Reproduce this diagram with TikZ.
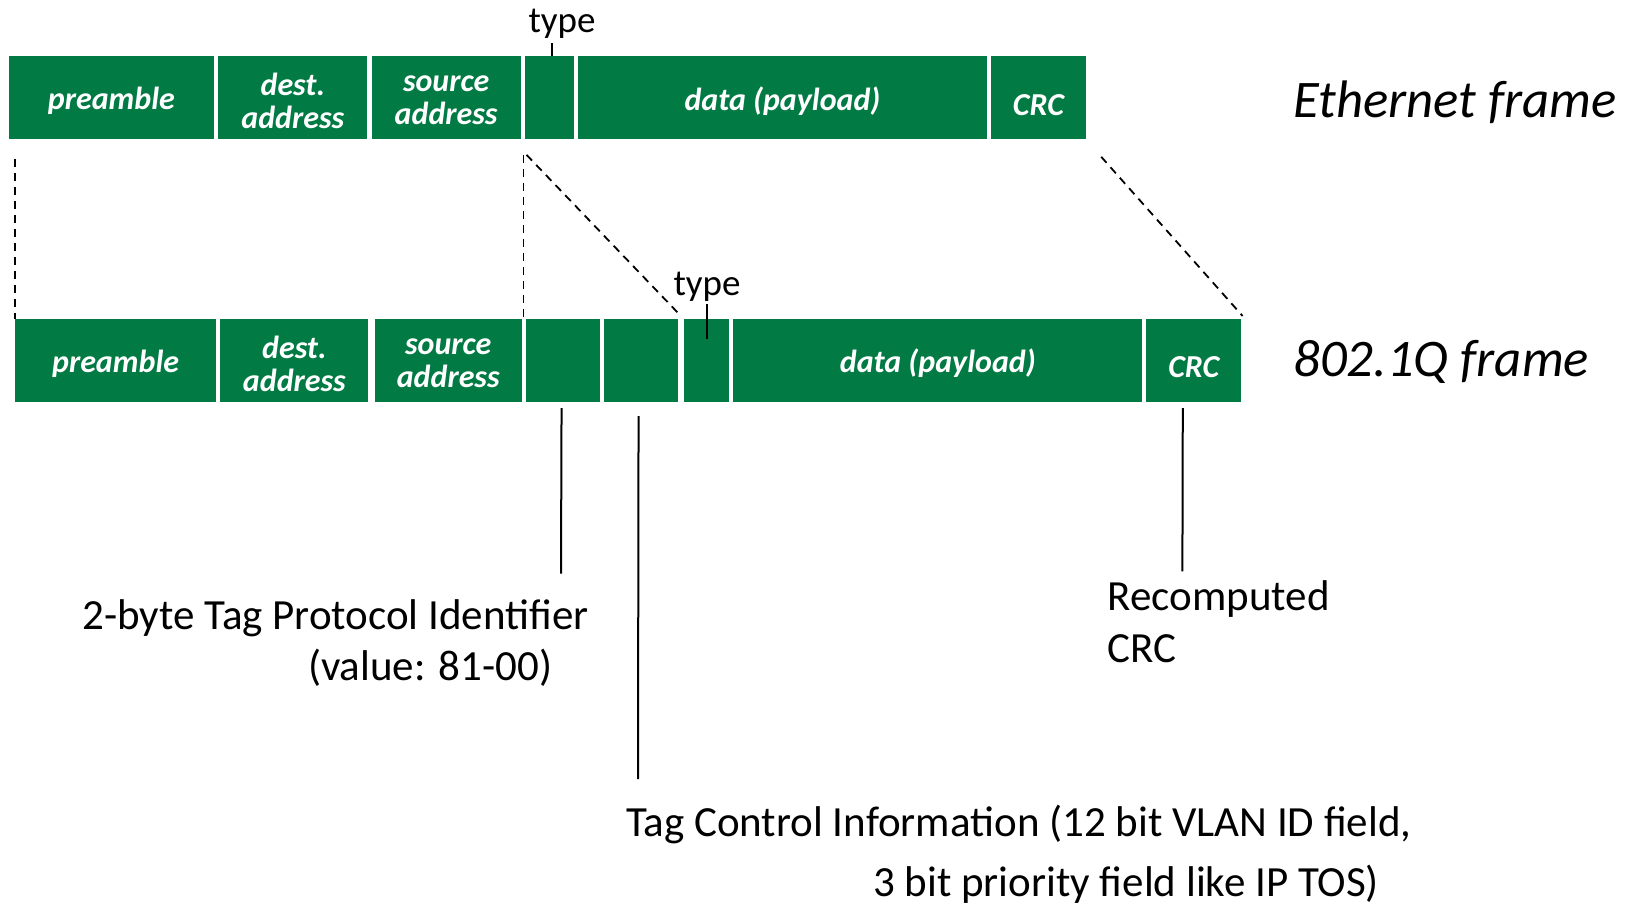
\documentclass[tikz,border=0pt]{standalone}
\usepackage{fontspec}
\setmainfont{Carlito}
\definecolor{framegreen}{HTML}{017A44}
\begin{document}
\begin{tikzpicture}[x=0.5pt,y=-0.5pt,
  field/.style={fill=framegreen, inner sep=0pt, anchor=north west},
  fieldtext/.style={text=white, inner sep=0pt, align=center, yshift=-1.4pt,
    font=\fontsize{16}{16.5}\selectfont\bfseries\itshape},
  toprow/.style={field, minimum height=41.5pt},
  botrow/.style={field, minimum height=41.2pt},
  dashline/.style={draw=black, line width=0.9pt, dash pattern=on 4pt off 3pt},
  pointer/.style={draw=black, line width=1pt},
  tick/.style={draw=black, line width=0.8pt},
  small/.style={inner sep=0pt, font=\fontsize{18.5}{20}\selectfont},
  note/.style={inner sep=0pt, font=\fontsize{21.5}{24}\selectfont},
  title/.style={inner sep=0pt, anchor=west, font=\fontsize{26.4}{28}\selectfont\itshape}]
\useasboundingbox (0,0) rectangle (1635,905);

% Ethernet frame
\node[toprow, minimum width=102.75pt, label={[fieldtext]center:preamble}] (ep) at (8.3,56) {};
\node[toprow, minimum width=74.55pt, label={[fieldtext]center:{dest.\\address}}] (ed) at (217.9,56) {};
\node[toprow, minimum width=74.55pt, label={[fieldtext]center:{source\\address}}] (es) at (371.2,56) {};
\node[toprow, minimum width=24.5pt] (et) at (524.5,56) {};
\node[toprow, minimum width=204.35pt, label={[fieldtext]center:data (payload)}] (ex) at (577.7,56) {};
\node[toprow, minimum width=47.4pt, label={[fieldtext,yshift=-2pt]center:CRC}] (ec) at (990.6,56) {};
\node[title] (etitle) at (1293,102) {Ethernet frame};

% 802.1Q frame
\node[botrow, minimum width=100.6pt, label={[fieldtext]center:preamble}] (qp) at (14.6,319) {};
\node[botrow, minimum width=74pt, label={[fieldtext]center:{dest.\\address}}] (qd) at (220,319) {};
\node[botrow, minimum width=73.55pt, label={[fieldtext]center:{source\\address}}] (qs) at (374.3,319) {};
\node[botrow, minimum width=37.05pt] (qa) at (525.5,319) {};
\node[botrow, minimum width=37.05pt] (qb) at (603.7,319) {};
\node[botrow, minimum width=22.4pt] (qt) at (684,319) {};
\node[botrow, minimum width=204.4pt, label={[fieldtext]center:data (payload)}] (qx) at (733,319) {};
\node[botrow, minimum width=47.4pt, label={[fieldtext,yshift=-2pt]center:CRC}] (qc) at (1146,319) {};
\node[title] (qtitle) at (1293,362) {802.1Q frame};

% type labels with their ticks
\node[small] (etype) at (562,24) {type};
\node[small] (qtype) at (707,287) {type};
\draw[tick] ([xshift=-5pt,yshift=-2pt]etype.south) -- ([xshift=-5pt]etype.south |- et.north);
\draw[tick] ([yshift=-1pt]qtype.south) -- ([yshift=-10pt]qtype.south |- qt.north);

% dashed guide lines between the two frames
\draw[dashline] ([yshift=-9.5pt]ep.south west -| qp.north west) -- (qp.north west);
\draw[dashline] ([xshift=-0.5pt,yshift=-7.5pt]et.south west) -- ([xshift=-0.5pt]et.south west |- qa.north);
\draw[dashline] ([xshift=1pt,yshift=-7.5pt]et.south west) -- ([xshift=-2pt,yshift=2pt]qt.north west);
\draw[dashline] ([xshift=7.5pt,yshift=-8.5pt]ec.south east) -- ([xshift=0.5pt,yshift=1.5pt]qc.north east);

% annotations below the 802.1Q frame
\coordinate (tpidend) at (561,573.5);
\coordinate (tciend) at (638,779);
\coordinate (crcend) at (1182.4,571.4);
\draw[pointer] ([xshift=-0.7pt,yshift=-3pt]qa.south) -- (tpidend);
\draw[pointer] ([xshift=-1.3pt,yshift=-7pt]qb.south) -- (tciend);
\draw[pointer] ([xshift=-5.5pt,yshift=-3pt]qc.south) -- (crcend);

\node[note, anchor=east] (tpid1) at (589,618) {2-byte Tag Protocol Identifier};
\node[note, anchor=east] (tpid2) at (552.6,668) {(value: 81-00)};
\node[note, anchor=west] (tci1) at (625.6,824) {Tag Control Information (12 bit VLAN ID field,};
\node[note, anchor=east] (tci2) at (1379.5,884.5) {3 bit priority field like IP TOS)};
\node[note, anchor=west] (crc1) at (1107.3,599.5) {Recomputed};
\node[note, anchor=west] (crc2) at (1107.3,648.5) {CRC};
\end{tikzpicture}
\end{document}
